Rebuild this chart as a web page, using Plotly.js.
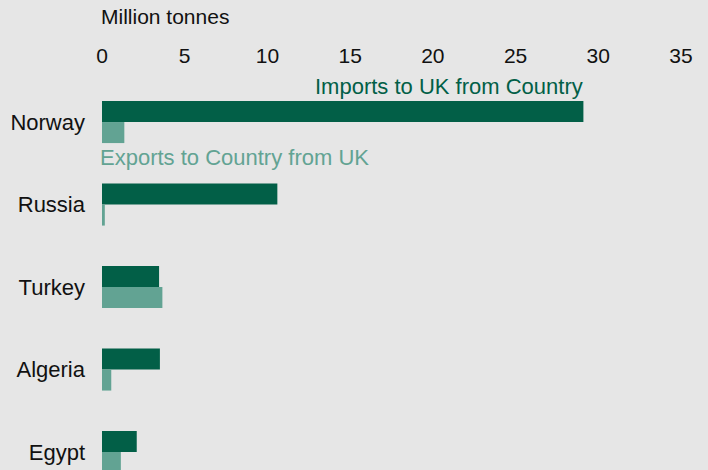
<!DOCTYPE html>
<html>
<head>
<meta charset="utf-8">
<script src="https://cdn.plot.ly/plotly-3.0.1.min.js"></script>
<style>html,body{margin:0;padding:0;background:#e6e6e6;}#chart{width:708px;height:470px;}</style>
</head>
<body>
<div id="chart"></div>
<script>
const countries = ["Norway", "Russia", "Turkey", "Algeria", "Egypt"];
const imports = [29.1, 10.6, 3.45, 3.5, 2.1];
const exports_ = [1.35, 0.17, 3.65, 0.56, 1.14];
const xTicks = [0, 5, 10, 15, 20, 25, 30, 35];
const axisTitle = "Million tonnes";
const importsLabel = "Imports to UK from Country";
const exportsLabel = "Exports to Country from UK";

const dark = "#025f47";
const light = "#62a393";
const font = "Liberation Sans, Arial, sans-serif";

const traces = [
  {type: "bar", orientation: "h", x: imports, y: countries, name: importsLabel,
   marker: {color: dark}, hoverinfo: "none"},
  {type: "bar", orientation: "h", x: exports_, y: countries, name: exportsLabel,
   marker: {color: light}, hoverinfo: "none"}
];

const layout = {
  width: 708, height: 470,
  paper_bgcolor: "#e6e6e6", plot_bgcolor: "#e6e6e6",
  margin: {l: 102, r: 27, t: 68, b: 0},
  showlegend: false,
  barmode: "group", bargap: 0.49, bargroupgap: 0,
  font: {family: font, size: 21, color: "#111"},
  xaxis: {
    side: "top", range: [0, 35], tickvals: xTicks, ticktext: xTicks.map(String),
    showgrid: false, zeroline: false, showline: false, ticks: "",
    tickfont: {family: font, size: 21, color: "#111"}
  },
  yaxis: {
    type: "category", categoryarray: countries, categoryorder: "array",
    range: [4.218, -0.655], showgrid: false, zeroline: false, showline: false,
    ticks: "", ticklabelstandoff: 16,
    tickfont: {family: font, size: 22, color: "#111"}
  },
  annotations: [
    {xref: "paper", yref: "paper", x: 0, y: 1, xanchor: "left", yanchor: "bottom",
     yshift: 38, xshift: -3, text: axisTitle, showarrow: false,
     font: {family: font, size: 21, color: "#111"}},
    {xref: "x", yref: "y", x: imports[0], y: -0.436, xanchor: "right", yanchor: "middle",
     xshift: 2, text: importsLabel, showarrow: false, font: {family: font, size: 22, color: dark}},
    {xref: "x", yref: "y", x: 0, y: 0.424, xanchor: "left", yanchor: "middle", xshift: -4,
     text: exportsLabel, showarrow: false, font: {family: font, size: 22, color: light}}
  ]
};

Plotly.newPlot("chart", traces, layout, {displayModeBar: false, staticPlot: true});
</script>
</body>
</html>
